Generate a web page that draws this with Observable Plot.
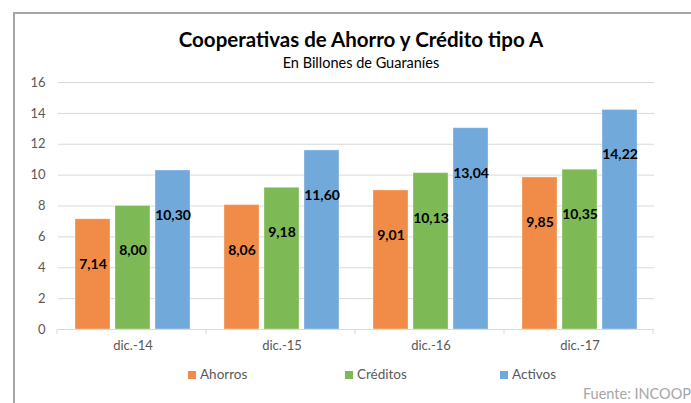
<!DOCTYPE html>
<html>
<head>
<meta charset="utf-8">
<script src="https://cdn.jsdelivr.net/npm/d3@7"></script>
<script src="https://cdn.jsdelivr.net/npm/@observablehq/plot@0.6"></script>
<style>
  html, body { margin: 0; padding: 0; background: #fff; overflow: hidden; }
  #wrap { position: relative; width: 691px; height: 403px; overflow: hidden; font-family: Lato, sans-serif; }
  #frame { position: absolute; left: 13px; top: 12px; width: 800px; height: 500px;
           border-top: 2px solid #a6a6a6; border-left: 2px solid #a6a6a6; box-sizing: border-box; }
  #chart { position: absolute; left: 0; top: 0; }
  #title { position: absolute; left: 0; width: 722px; top: 27px; text-align: center; line-height: 24px;
           font-weight: bold; font-size: 20.5px; color: #000; }
  #subtitle { position: absolute; left: 0; width: 722px; top: 54px; text-align: center; line-height: 18px;
              font-size: 14.5px; color: #000; }
  #legend { position: absolute; top: 366px; left: 0; width: 691px; height: 18px; }
  .item { position: absolute; font-size: 13.5px; color: #595959; line-height: 16px; white-space: nowrap; }
  .sw { display: inline-block; width: 8px; height: 8px; margin-right: 4px; vertical-align: 0px; }
  #caption { position: absolute; right: 0px; top: 385px; font-size: 14.5px; color: #a6a6a6; }
</style>
</head>
<body>
<div id="wrap">
  <div id="frame"></div>
  <div id="chart"></div>
  <div id="title"></div>
  <div id="subtitle"></div>
  <div id="legend"></div>
  <div id="caption"></div>
</div>
<script>
// ---- data ----
const categories = ["dic.-14", "dic.-15", "dic.-16", "dic.-17"];
const seriesNames = ["Ahorros", "Créditos", "Activos"];
const ahorros  = [7.14, 8.06, 9.01, 9.85];
const creditos = [8.00, 9.18, 10.13, 10.35];
const activos  = [10.30, 11.60, 13.04, 14.22];
const yTicks = [0, 2, 4, 6, 8, 10, 12, 14, 16];
const colors = ["#F08C48", "#7DB954", "#72A9DB"];
const titleText = "Cooperativas de Ahorro y Crédito tipo A";
const subtitleText = "En Billones de Guaraníes";
const captionText = "Fuente: INCOOP";

const seriesValues = [ahorros, creditos, activos];
const rows = [];
categories.forEach((c, i) => {
  seriesNames.forEach((s, j) => rows.push({cat: c, series: s, value: seriesValues[j][i]}));
});

const fmt = v => v.toFixed(2).replace(".", ",");

const chart = Plot.plot({
  width: 691,
  height: 360,
  marginTop: 82,
  marginBottom: 31,
  marginLeft: 57,
  marginRight: 37,
  style: { fontFamily: "Lato, sans-serif", fontSize: "13px", color: "#595959", background: "transparent" },
  fx: { domain: categories, padding: 0, label: null, tickSize: 0, tickPadding: 11, fontSize: 13 },
  x: { domain: seriesNames, paddingInner: 0.12, paddingOuter: 0.38, axis: null },
  y: { domain: [0, 16], ticks: yTicks, grid: false, label: null, tickSize: 0, tickPadding: 13 },
  color: { domain: seriesNames, range: colors },
  marks: [
    Plot.ruleY(yTicks.filter(t => t > 0), { stroke: "#d9d9d9", strokeWidth: 1 }),
    Plot.barY(rows, { fx: "cat", x: "series", y: "value", fill: "series", stroke: "#ffffff", strokeOpacity: 0.35, strokeWidth: 1 }),
    Plot.ruleY([0], { stroke: "#d9d9d9", strokeWidth: 1 }),
    Plot.text(rows, { fx: "cat", x: "series", y: "value", text: d => fmt(d.value), dy: 45,
                      fontWeight: "bold", fontSize: 14, fill: "#000", lineAnchor: "middle" })
  ]
});
document.getElementById("chart").appendChild(chart);

// category boundary ticks below the baseline, derived from the fx scale
const fxs = chart.scale("fx");
const ys = chart.scale("y");
const y0 = ys.apply ? ys.apply(0) : 329;
const svg = d3.select(chart.tagName.toLowerCase() === "svg" ? chart : chart.querySelector("svg"));
const edges = d3.range(categories.length + 1).map(i => fxs.range[0] + i * fxs.step);
svg.append("g").selectAll("line").data(edges).join("line")
  .attr("x1", d => d).attr("x2", d => d)
  .attr("y1", y0).attr("y2", y0 + 5)
  .attr("stroke", "#d9d9d9").attr("stroke-width", 1);

document.getElementById("title").textContent = titleText;
document.getElementById("subtitle").textContent = subtitleText;
document.getElementById("caption").textContent = captionText;

const legendLefts = [188, 345, 500];
const legend = document.getElementById("legend");
seriesNames.forEach((s, i) => {
  const it = document.createElement("div");
  it.className = "item";
  it.style.left = legendLefts[i] + "px";
  const sw = document.createElement("span");
  sw.className = "sw";
  sw.style.background = colors[i];
  it.appendChild(sw);
  it.appendChild(document.createTextNode(s));
  legend.appendChild(it);
});
</script>
</body>
</html>
